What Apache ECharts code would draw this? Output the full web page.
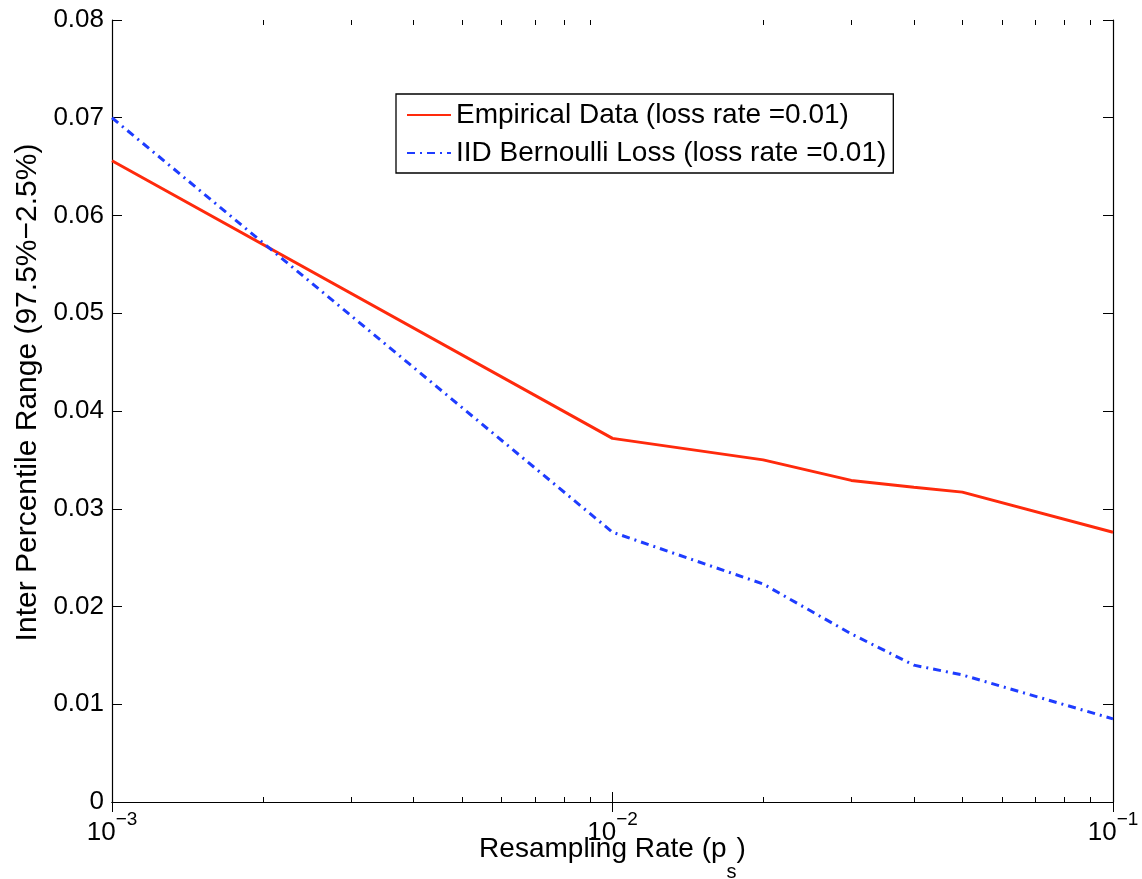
<!DOCTYPE html>
<html>
<head>
<meta charset="utf-8">
<title>Inter Percentile Range vs Resampling Rate</title>
<script src="https://cdn.jsdelivr.net/npm/echarts@6/dist/echarts.min.js"></script>
<style>
  html, body { margin: 0; padding: 0; background: #fff; }
  #chart { width: 1142px; height: 879px; }
</style>
</head>
<body>
<div id="chart"></div>
<script>
// resampling rates (x, log scale)
var rates = [0.001, 0.01, 0.02, 0.03, 0.04, 0.05, 0.1];
// inter percentile range
var empirical = [0.0656, 0.0372, 0.0350, 0.0329, 0.0322, 0.0317, 0.0276];
var bernoulli = [0.0700, 0.0276, 0.0223, 0.0172, 0.0140, 0.0130, 0.0085];
// minor tick positions of the log axis
var minorTicks = [0.002, 0.003, 0.004, 0.005, 0.006, 0.007, 0.008, 0.009,
                  0.02, 0.03, 0.04, 0.05, 0.06, 0.07, 0.08, 0.09];
var seriesNames = ['Empirical Data (loss rate =0.01)', 'IID Bernoulli Loss (loss rate =0.01)'];

var FONT = '"Liberation Sans", Arial, Helvetica, sans-serif';

function pairs(xs, ys) {
    return xs.map(function (x, i) { return [x, ys[i]]; });
}

var chart = echarts.init(document.getElementById('chart'));

var option = {
    animation: false,
    backgroundColor: '#fff',
    textStyle: { fontFamily: FONT, color: '#000' },
    grid: { left: 112, right: 29, top: 20, bottom: 77, containLabel: false, outerBoundsMode: 'none' },
    legend: {
        data: seriesNames,
        orient: 'vertical',
        left: 396,
        top: 94,
        itemWidth: 44,
        itemHeight: 14,
        itemGap: 8,
        padding: [6, 7, 5, 10],
        borderColor: '#000',
        borderWidth: 1.3,
        backgroundColor: '#fff',
        itemStyle: { opacity: 0 },
        textStyle: { fontFamily: FONT, fontSize: 28, lineHeight: 30, color: '#000' }
    },
    xAxis: [
        {
            type: 'log',
            logBase: 10,
            min: 0.001,
            max: 0.1,
            name: '{n|Resampling Rate (p}{sub|s}{n|)}',
            nameLocation: 'middle',
            nameGap: 33,
            nameMoveOverlap: false,
            nameTextStyle: {
                rich: {
                    n: { fontFamily: FONT, fontSize: 28, lineHeight: 30, verticalAlign: 'top', color: '#000' },
                    sub: { fontFamily: FONT, fontSize: 20, lineHeight: 47, verticalAlign: 'bottom', color: '#000' }
                }
            },
            axisLine: { lineStyle: { color: '#000', width: 1.2 } },
            axisTick: { inside: true, length: 10, lineStyle: { color: '#000' } },
            splitLine: { show: false },
            axisLabel: {
                margin: 8,
                formatter: function (v) {
                    var e = Math.round(Math.log(v) / Math.LN10);
                    return '{b|10}{s|' + (e < 0 ? '\u2212' + (-e) : e) + '}';
                },
                rich: {
                    b: { fontFamily: FONT, fontSize: 26, lineHeight: 36, verticalAlign: 'bottom', color: '#000' },
                    s: { fontFamily: FONT, fontSize: 19, lineHeight: 20, verticalAlign: 'top', color: '#000' }
                }
            }
        },
        {
            type: 'log',
            logBase: 10,
            min: 0.001,
            max: 0.1,
            position: 'top',
            axisLine: { lineStyle: { color: '#000', width: 1.2 } },
            axisTick: { inside: true, length: 10, lineStyle: { color: '#000' } },
            axisLabel: { show: false },
            splitLine: { show: false }
        }
    ],
    yAxis: [
        {
            type: 'value',
            min: 0,
            max: 0.08,
            interval: 0.01,
            name: 'Inter Percentile Range (97.5%\u22122.5%)',
            nameLocation: 'middle',
            nameGap: 69,
            nameMoveOverlap: false,
            nameTextStyle: { fontFamily: FONT, fontSize: 30, color: '#000', padding: [0, 0, 0, 37] },
            axisLine: { show: true, lineStyle: { color: '#000', width: 1.2 } },
            axisTick: { show: true, inside: true, length: 10, lineStyle: { color: '#000' } },
            splitLine: { show: false },
            axisLabel: {
                margin: 8,
                fontFamily: FONT,
                fontSize: 26,
                color: '#000',
                formatter: function (v) { return v === 0 ? '0' : v.toFixed(2); }
            }
        },
        {
            type: 'value',
            min: 0,
            max: 0.08,
            interval: 0.01,
            position: 'right',
            axisLine: { show: true, lineStyle: { color: '#000', width: 1.2 } },
            axisTick: { show: true, inside: true, length: 10, lineStyle: { color: '#000' } },
            axisLabel: { show: false },
            splitLine: { show: false }
        }
    ],
    series: [
        {
            name: seriesNames[0],
            type: 'line',
            xAxisIndex: 0,
            yAxisIndex: 0,
            data: pairs(rates, empirical),
            symbol: 'none',
            color: '#ff2a0c',
            lineStyle: { color: '#ff2a0c', width: 3 }
        },
        {
            name: seriesNames[1],
            type: 'line',
            xAxisIndex: 0,
            yAxisIndex: 0,
            data: pairs(rates, bernoulli),
            symbol: 'none',
            color: '#1e3cff',
            lineStyle: { color: '#1e3cff', width: 3, type: [8, 5, 2, 5] }
        },
        {
            // log minor ticks on bottom and top edges
            name: 'minor',
            type: 'custom',
            xAxisIndex: 0,
            yAxisIndex: 0,
            silent: true,
            data: minorTicks.map(function (v) { return [v, 0.04]; }),
            renderItem: function (params, api) {
                var x = Math.round(api.coord([api.value(0), api.value(1)])[0]) + 0.5;
                var cs = params.coordSys;
                var st = { stroke: '#000', lineWidth: 1 };
                return {
                    type: 'group',
                    children: [
                        { type: 'line', shape: { x1: x, y1: cs.y + cs.height, x2: x, y2: cs.y + cs.height - 5 }, style: st },
                        { type: 'line', shape: { x1: x, y1: cs.y, x2: x, y2: cs.y + 5 }, style: st }
                    ]
                };
            }
        }
    ]
};

chart.setOption(option);
</script>
</body>
</html>
